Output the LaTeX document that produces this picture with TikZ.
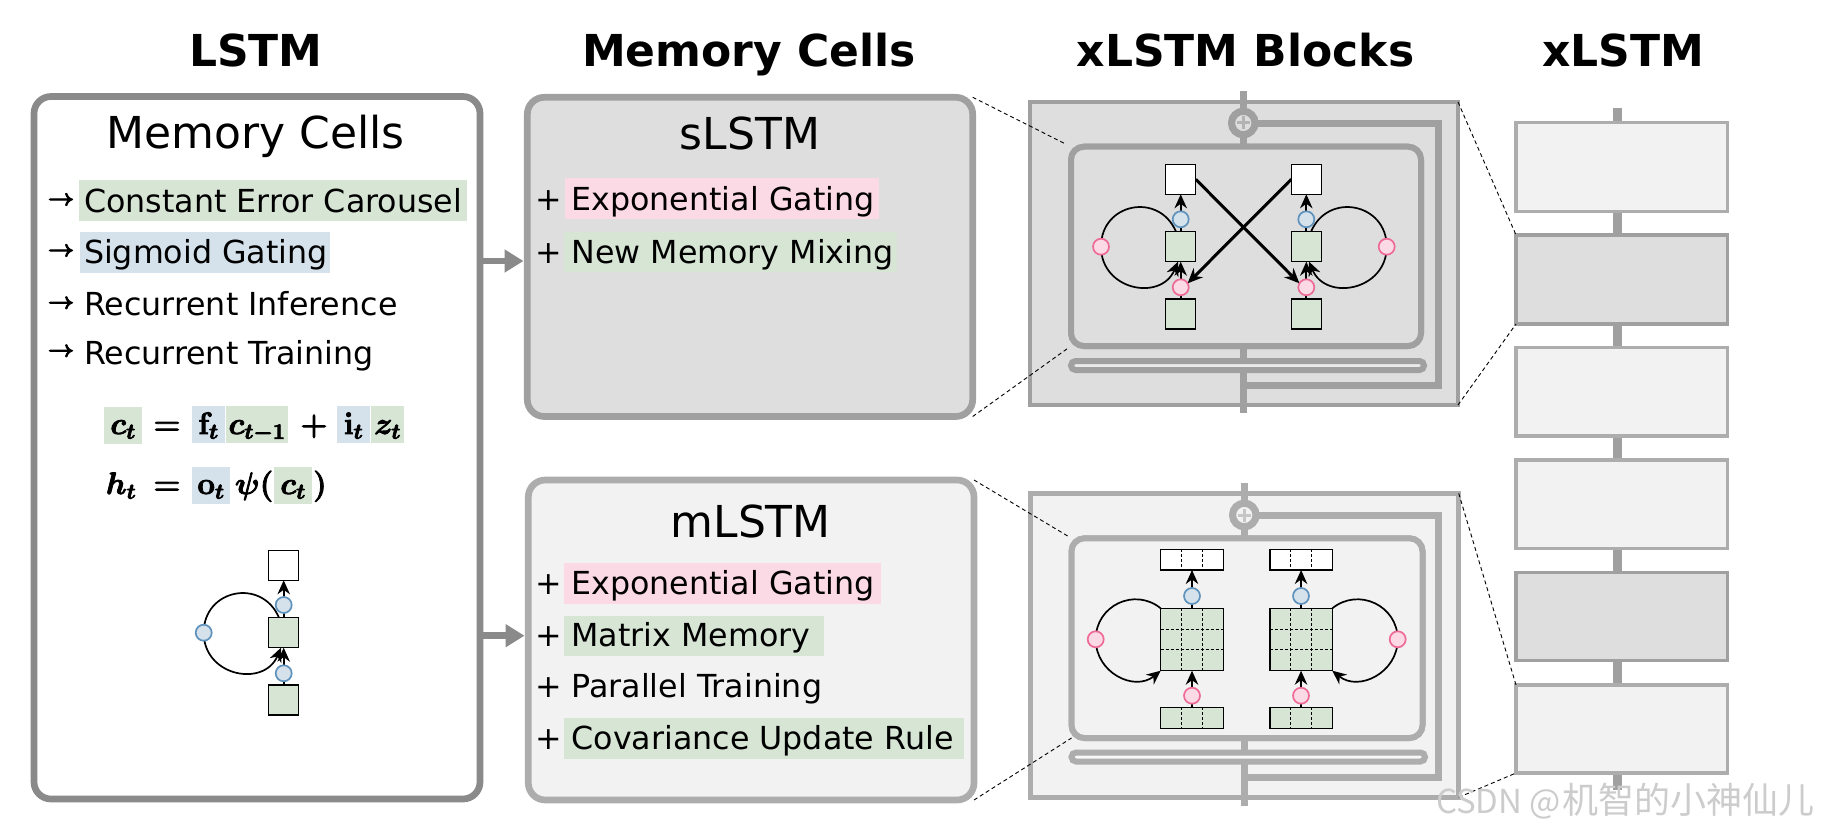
\documentclass[tikz,border=0pt]{standalone}
\usepackage{fix-cm}
\usepackage[no-math]{fontspec}
\setmainfont{DejaVu Sans}
\newfontfamily\cjkfont{Noto Sans CJK SC}
\usetikzlibrary{arrows.meta}
\pgfdeclarelayer{back}
\pgfdeclarelayer{conn}
\pgfsetlayers{back,conn,main}
\definecolor{cgreen}{HTML}{D7E5D5}
\definecolor{cblue}{HTML}{D5E2EC}
\definecolor{cpink}{HTML}{FBD9E5}
\definecolor{lpink}{HTML}{EE6A97}
\definecolor{lblue}{HTML}{5F92BC}
\definecolor{gLSTM}{HTML}{8A8A8A}
\definecolor{gdark}{HTML}{A0A0A0}
\definecolor{glight}{HTML}{ADADAD}
\definecolor{fdark}{HTML}{DEDEDE}
\definecolor{flight}{HTML}{F2F2F2}
\newcommand\fs[1]{\fontsize{#1}{#1}\selectfont}
\newcommand\heavy[2]{\special{pdf:literal 2 Tr #1 w}#2\special{pdf:literal 0 Tr}}
% \frm{style}{name}{x0}{y0}{x1}{y1}
\newcommand\frm[6]{\node[box,#1,minimum width={((#5)-(#3))*1pt},minimum height={((#6)-(#4))*1pt}] (#2) at ({((#3)+(#5))/2},{((#4)+(#6))/2}) {};}
\newcommand\txtw[4]{\node[lbl,anchor=base west] (#1) at (#2,#3) {#4};}
\newcommand\armark[2]{\node[lbl,font=\fs{22.5}] (#1) at (61,#2) {\heavy{1}{{\boldmath$\rightarrow$}}};}
\newcommand\plusm[2]{\node[lbl,anchor=base] (#1) at (548.5,#2) {+};}
\newcommand\mth[4]{\node[mathl,anchor=base] (#1) at (#2,#3) {\heavy{0.8}{{\boldmath$#4$}}};}
\tikzset{
  box/.style={rectangle,inner sep=0pt,outer sep=0pt},
  lbl/.style={inner sep=0pt,outer sep=0pt,font=\fs{31.7},text=black},
  head/.style={inner sep=0pt,outer sep=0pt,font=\fs{44}\bfseries,anchor=base},
  big/.style={inner sep=0pt,outer sep=0pt,font=\fs{44},anchor=base},
  mathl/.style={inner sep=0pt,outer sep=0pt,font=\fs{31}},
  bgreen/.style={fill=cgreen},
  bblue/.style={fill=cblue},
  bpink/.style={fill=cpink},
  card/.style={line width=6.7pt,rounded corners=17pt},
  cardL/.style={card,draw=gLSTM,fill=white},
  cardS/.style={card,draw=gdark,fill=fdark},
  cardM/.style={card,draw=glight,fill=flight},
  blockfr/.style={line width=4.6pt},
  innerbx/.style={line width=6pt,rounded corners=13pt},
  pill/.style={line width=6pt,rounded corners=4.5pt},
  rail/.style={line width=7pt},
  sq/.style={box,draw=black,line width=1.5pt,minimum size=30pt},
  sqg/.style={sq,fill=cgreen},
  sqw/.style={sq,fill=white},
  vec/.style={box,draw=black,line width=1.4pt},
  gp/.style={circle,inner sep=0pt,outer sep=0pt,minimum size=16pt,line width=1.7pt,draw=lpink,fill=cpink},
  gb/.style={circle,inner sep=0pt,outer sep=0pt,minimum size=16pt,line width=1.7pt,draw=lblue,fill=cblue},
  adder/.style={circle,inner sep=0pt,outer sep=0pt,minimum size=23.4pt,line width=7pt},
  wire/.style={line width=1.7pt,black},
  awire/.style={wire,-{Stealth[length=14pt,width=12.5pt]}},
  xwire/.style={line width=3pt,black,-{Stealth[length=15pt,width=13pt]}},
  griddash/.style={line width=1.1pt,black,dash pattern=on 3pt off 2pt},
  zoomdash/.style={line width=.9pt,black,dash pattern=on 4pt off 3pt},
  bigarrow/.style={line width=6.5pt,gLSTM,-{Triangle[length=19pt,width=22pt]}},
  colL/.style={box,draw=glight,fill=flight,line width=3.5pt},
  colD/.style={box,draw=gdark,fill=fdark,line width=3.5pt},
}
\begin{document}
\begin{tikzpicture}[x=1pt,y=-1pt]
\useasboundingbox (0,0) rectangle (1822,832);
% headings
\node[head] (h1) at (256,67) {LSTM};
\node[head] (h2) at (749,67) {Memory Cells};
\node[head] (h3) at (1245.5,67) {xLSTM Blocks};
\node[head] (h4) at (1623,67) {xLSTM};
\begin{pgfonlayer}{back}
\fill[white] (0,0) rectangle (1822,832);
% cards
\frm{cardL}{lstm}{34}{96.5}{480}{799}
\frm{cardS}{slstm}{527.3}{97.3}{972.7}{416.5}
\frm{cardM}{mlstm}{528.3}{480}{974}{800}
\coordinate (a1) at (500,261);
\coordinate (a2) at (500,635.7);
\draw[bigarrow] (lstm.east |- a1) -- ([xshift=-3.8pt]slstm.west |- a1);
\draw[bigarrow] (lstm.east |- a2) -- ([xshift=-3.8pt]mlstm.west |- a2);
% sLSTM block
\frm{blockfr,draw=gdark,fill=fdark}{bs}{1030}{102}{1458}{405}
\node[adder,draw=gdark,fill=fdark] (as) at (1243.3,123) {};
\frm{innerbx,draw=gdark,fill=fdark}{is}{1071}{146.7}{1421}{346}
\coordinate (vts) at (1243.3,91);
\coordinate (vbs) at (1243.3,413);
\coordinate (r1s) at (1438,124);
\coordinate (r2s) at (1438,385);
\draw[rail,gdark] (vts) -- (as);
\draw[rail,gdark] (as) -- (is.north -| as);
\draw[rail,gdark] (is.south -| as) -- (vbs);
\draw[rail,gdark,line join=miter] (as.center |- r1s) -- (r1s) -- (r2s) -- (r2s -| as);
\frm{innerbx,draw=gdark,fill=fdark}{is}{1071}{146.7}{1421}{346}
\frm{pill,draw=gdark,fill=fdark!60!white}{ps}{1071}{361}{1424}{370}
\node[adder,draw=gdark,fill=fdark] (as) at (1243.3,123) {};
\draw[line width=3pt,gdark!80!white] ([xshift=-6.5pt]as.center) -- ([xshift=6.5pt]as.center);
\draw[line width=3pt,gdark!80!white] ([yshift=-6.5pt]as.center) -- ([yshift=6.5pt]as.center);
% mLSTM block
\frm{blockfr,draw=glight,fill=flight}{bm}{1030.5}{493.3}{1458.7}{797.3}
\node[adder,draw=glight,fill=flight] (am) at (1244.3,515) {};
\frm{innerbx,draw=glight,fill=flight}{im}{1071.5}{538.3}{1422.5}{738}
\coordinate (vtm) at (1244.3,483);
\coordinate (vbm) at (1244.3,806);
\coordinate (r1m) at (1438,515);
\coordinate (r2m) at (1438,777);
\draw[rail,glight] (vtm) -- (am);
\draw[rail,glight] (am) -- (im.north -| am);
\draw[rail,glight] (im.south -| am) -- (vbm);
\draw[rail,glight,line join=miter] (am.center |- r1m) -- (r1m) -- (r2m) -- (r2m -| am);
\frm{innerbx,draw=glight,fill=flight}{im}{1071.5}{538.3}{1422.5}{738}
\frm{pill,draw=glight,fill=flight!60!white}{pm}{1071.5}{752.5}{1425}{761.5}
\node[adder,draw=glight,fill=flight] (am) at (1244.3,515) {};
\draw[line width=3pt,glight!70!white] ([xshift=-6.5pt]am.center) -- ([xshift=6.5pt]am.center);
\draw[line width=3pt,glight!70!white] ([yshift=-6.5pt]am.center) -- ([yshift=6.5pt]am.center);
% right column
\coordinate (spt) at (1617.3,107.7);
\coordinate (spb) at (1617.3,790);
\draw[line width=8.5pt,gdark] (spt) -- (spb);
\frm{colL}{c1}{1516}{122.5}{1727.5}{211.5}
\frm{colD}{c2}{1516}{235}{1727.5}{324}
\frm{colL}{c3}{1516}{347.5}{1727.5}{436}
\frm{colL}{c4}{1516}{460}{1727.5}{548.5}
\frm{colD}{c5}{1516}{572.5}{1727.5}{660.5}
\frm{colL}{c6}{1516}{685}{1727.5}{773}
\end{pgfonlayer}
% LSTM card text
\node[big] (t1) at (255.6,149) {Memory Cells};
\frm{bgreen}{b1}{79}{180}{467}{220.7}
\frm{bblue}{b2}{80}{232}{330}{272.7}
\txtw{l1}{84}{212.7}{Constant Error Carousel}
\txtw{l2}{84}{263}{Sigmoid Gating}
\txtw{l3}{84}{315}{Recurrent Inference}
\txtw{l4}{84}{364}{Recurrent Training}
\armark{m1}{200.7}
\armark{m2}{251.7}
\armark{m3}{304}
\armark{m4}{352}
% equations
\frm{bgreen}{e1}{104}{407}{142}{443.7}
\frm{bblue}{e2}{192}{406}{225}{442.7}
\frm{bgreen}{e3}{226}{406}{288}{442.7}
\frm{bblue}{e4}{337}{406}{370}{442.7}
\frm{bgreen}{e5}{371}{406}{404}{442.7}
\frm{bblue}{e6}{192}{467}{230}{503.7}
\frm{bgreen}{e7}{274}{467}{312}{503.7}
\mth{q1}{123}{434}{c_t}
\mth{q2}{167}{434}{=}
\mth{q3}{208.5}{434}{\mathbf{f}_t}
\mth{q4}{257}{434}{c_{t-1}}
\mth{q5}{314}{434}{+}
\mth{q6}{353.5}{434}{\mathbf{i}_t}
\mth{q7}{387.5}{434}{z_t}
\mth{q8}{121}{494}{h_t}
\mth{q9}{167}{494}{=}
\mth{q10}{211}{494}{\mathbf{o}_t}
\node[mathl,anchor=base west] (q11) at (235,494) {\heavy{0.8}{{\boldmath$\psi($}}};
\mth{q12}{293}{494}{c_t}
\mth{q13}{320}{494}{)}
% sLSTM text
\node[big] (t2) at (750,149.8) {sLSTM};
\frm{bpink}{b3}{565}{178}{879}{219}
\frm{bgreen}{b4}{564}{231.7}{897}{272.3}
\plusm{p1}{210.7}
\plusm{p2}{263.4}
\txtw{l5}{571.5}{210.7}{Exponential Gating}
\txtw{l6}{571.5}{263.4}{New Memory Mixing}
% mLSTM text
\node[big] (t3) at (750.7,537) {mLSTM};
\frm{bpink}{b5}{564}{563}{881}{603.7}
\frm{bgreen}{b6}{564}{616}{824}{655.7}
\frm{bgreen}{b7}{564}{718}{964}{758.7}
\plusm{p3}{594.5}
\plusm{p4}{646.4}
\plusm{p5}{697.4}
\plusm{p6}{749.5}
\txtw{l7}{571.5}{594.5}{Exponential Gating}
\txtw{l8}{571.5}{646.4}{Matrix Memory}
\txtw{l9}{571.5}{697.4}{Parallel Training}
\txtw{l10}{571.5}{749.5}{Covariance Update Rule}
% small LSTM cell
\node[sqw] (a) at (283.7,565.3) {};
\node[sqg] (b) at (283.7,632.7) {};
\node[sqg] (c) at (283.7,700) {};
\node[gb] (g1) at (283.7,605) {};
\node[gb] (g2) at (283.7,673.3) {};
\node[gb] (g3) at (203.7,632.7) {};
% sLSTM cells
\node[sqw] (sa) at (1180.7,179.3) {};
\node[sqg] (sb) at (1180.7,246.7) {};
\node[sqg] (sc) at (1180.7,314) {};
\node[gb] (sg1) at (1180.7,219.3) {};
\node[gp] (sg2) at (1180.7,287.3) {};
\node[gp] (sg3) at (1101,246.7) {};
\node[sqw] (ta) at (1306.3,179.3) {};
\node[sqg] (tb) at (1306.3,246.7) {};
\node[sqg] (tc) at (1306.3,314) {};
\node[gb] (tg1) at (1306.3,219.3) {};
\node[gp] (tg2) at (1306.3,287.3) {};
\node[gp] (tg3) at (1386.7,246.7) {};
% mLSTM cells
\frm{vec,fill=white}{ma}{1160.7}{549.3}{1223.3}{570}
\frm{vec,fill=cgreen}{mb}{1160.7}{608.3}{1223.3}{670.7}
\frm{vec,fill=cgreen}{mc}{1160.7}{707.3}{1223.3}{728.3}
\node[gb] (mg1) at (1192,596) {};
\node[gp] (mg2) at (1192,695.7) {};
\node[gp] (mg3) at (1095.7,639.3) {};
\frm{vec,fill=white}{na}{1270}{549.3}{1332.3}{570}
\frm{vec,fill=cgreen}{nb}{1270}{608.3}{1332.3}{670.7}
\frm{vec,fill=cgreen}{nc}{1270}{707.3}{1332.3}{728.3}
\node[gb] (ng1) at (1301,596) {};
\node[gp] (ng2) at (1301,695.7) {};
\node[gp] (ng3) at (1397.7,639.3) {};
% grids
\foreach \n in {ma,mb,mc,na,nb,nc}{
  \draw[griddash] ([xshift=20.8pt]\n.north west) -- ([xshift=20.8pt]\n.south west);
  \draw[griddash] ([xshift=41.6pt]\n.north west) -- ([xshift=41.6pt]\n.south west);
}
\foreach \n in {mb,nb}{
  \draw[griddash] ([yshift=-20.8pt]\n.north west) -- ([yshift=-20.8pt]\n.north east);
  \draw[griddash] ([yshift=-41.6pt]\n.north west) -- ([yshift=-41.6pt]\n.north east);
}
\begin{pgfonlayer}{conn}
% vertical wires
\foreach \nA/\nB/\nC/\nD/\nE in {c/g2/b/g1/a, sc/sg2/sb/sg1/sa, tc/tg2/tb/tg1/ta, mc/mg2/mb/mg1/ma, nc/ng2/nb/ng1/na}{
  \draw[wire] (\nA) -- (\nB);
  \draw[awire] (\nB) -- (\nC);
  \draw[wire] (\nC) -- (\nD);
  \draw[awire] (\nD) -- (\nE);
}
% feedback loops
\foreach \m/\g in {b/g3, sb/sg3}{
  \draw[wire] ([xshift=-4.7pt]\m.north) to[out=113,in=90,out distance=43.6pt,in distance=43.6pt] (\g.center);
  \draw[awire] (\g.center) to[out=-90,in=-113,out distance=43.6pt,in distance=43.6pt] ([xshift=-2.7pt]\m.south);
}
\draw[wire] ([xshift=4.7pt]tb.north) to[out=67,in=90,out distance=43.6pt,in distance=43.6pt] (tg3.center);
\draw[awire] (tg3.center) to[out=-90,in=-67,out distance=43.6pt,in distance=43.6pt] ([xshift=2.7pt]tb.south);
\draw[wire] (mb.north west) to[out=141,in=90,out distance=33.7pt,in distance=33.7pt] (mg3.center);
\draw[awire] (mg3.center) to[out=-90,in=-141,out distance=33.7pt,in distance=33.7pt] (mb.south west);
\draw[wire] (nb.north east) to[out=39,in=90,out distance=33.7pt,in distance=33.7pt] (ng3.center);
\draw[awire] (ng3.center) to[out=-90,in=-39,out distance=33.7pt,in distance=33.7pt] (nb.south east);
% crossing wires
\draw[xwire] (sa.east) -- (tg2.150);
\draw[xwire] (ta.west) -- (sg2.30);
\end{pgfonlayer}
% zoom guide lines
\draw[zoomdash,shorten >=6pt] (slstm.north east) -- (is.north west);
\draw[zoomdash,shorten >=3pt] (slstm.south east) -- (is.south west);
\draw[zoomdash,shorten >=3pt] (mlstm.north east) -- (im.north west);
\draw[zoomdash] (mlstm.south east) -- (im.south west);
\draw[zoomdash] (bs.north east) -- (c2.north west);
\draw[zoomdash] (bs.south east) -- (c2.south west);
\draw[zoomdash] (bm.north east) -- (c6.north west);
\draw[zoomdash] (bm.south east) -- (c6.south west);
% watermark
\node[inner sep=0pt,outer sep=0pt,anchor=base west,text=black!20] (wm) at (1436,813) {\cjkfont{\fs{33}CSDN @}\hspace{1pt}{\fs{36}机智的小神仙儿}};
\end{tikzpicture}
\end{document}
